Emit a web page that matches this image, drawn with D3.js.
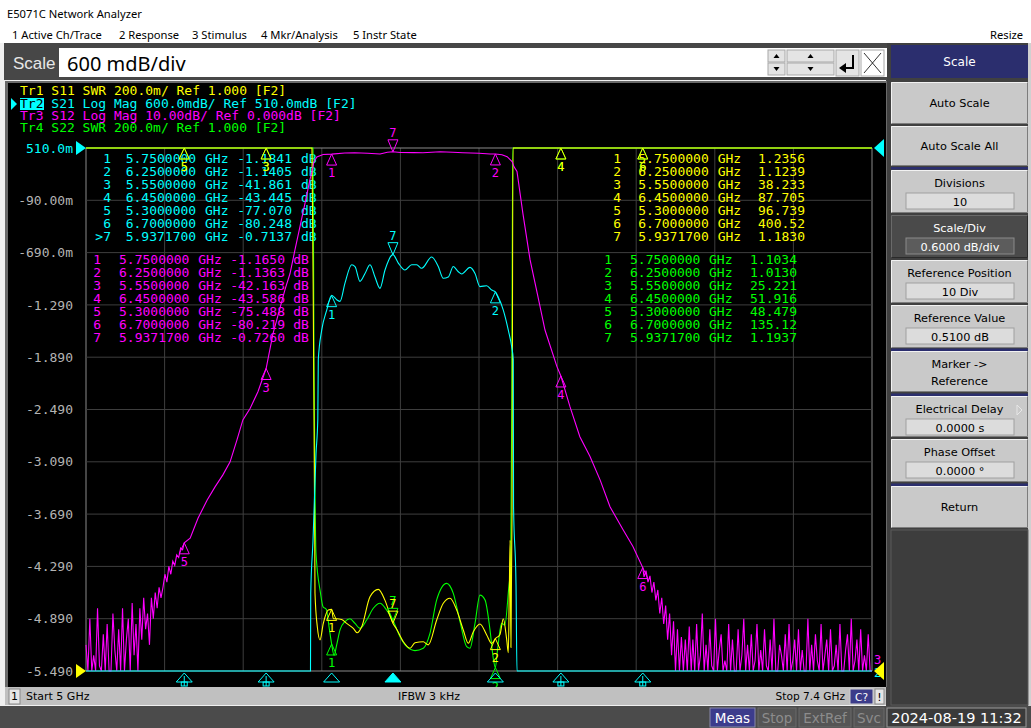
<!DOCTYPE html>
<html>
<head>
<meta charset="utf-8">
<script src="https://cdnjs.cloudflare.com/ajax/libs/d3/7.8.5/d3.min.js"></script>
<style>
body { margin: 0; background: #f0f0f0; overflow: hidden; }
svg { display: block; }
</style>
</head>
<body>
<div id="chart"></div>
<script>
var w = 1031;
var h = 728;
var mono = "'DejaVu Sans Mono', monospace";
var ui = "'DejaVu Sans', sans-serif";

var yellow = "#ffff00", cyan = "#00ffff", magenta = "#ff00ff", green = "#00ff00";

// markers (same stimulus for all 4 traces)
var markerLabels = ["1", "2", "3", "4", "5", "6", "7"];
var markerGHz = [5.75, 6.25, 5.55, 6.45, 5.30, 6.70, 5.93717];
var s11Markers = [1.2356, 1.1239, 38.233, 87.705, 96.739, 400.52, 1.1830];
var s21Markers = [-1.1841, -1.1405, -41.861, -43.445, -77.070, -80.248, -0.7137];
var s12Markers = [-1.1650, -1.1363, -42.163, -43.586, -75.488, -80.219, -0.7260];
var s22Markers = [1.1034, 1.0130, 25.221, 51.916, 48.479, 135.12, 1.1937];

var yTickValues = [0.51, -0.09, -0.69, -1.29, -1.89, -2.49, -3.09, -3.69, -4.29, -4.89, -5.49];
var yTickLabels = ["510.0m", "-90.00m", "-690.0m", "-1.290", "-1.890", "-2.490", "-3.090", "-3.690", "-4.290", "-4.890", "-5.490"];
var xGridValues = [5.0, 5.24, 5.48, 5.72, 5.96, 6.2, 6.44, 6.68, 6.92, 7.16, 7.4];

var traceHeader = [
	["Tr1 S11 SWR 200.0m/ Ref 1.000 [F2]", yellow],
	["Tr2 S21 Log Mag 600.0mdB/ Ref 510.0mdB [F2]", cyan],
	["Tr3 S12 Log Mag 10.00dB/ Ref 0.000dB [F2]", magenta],
	["Tr4 S22 SWR 200.0m/ Ref 1.000 [F2]", green]
];

// S21 log mag (dB) [GHz, value]
var s21Trace = [[5.000,-80.0],[5.300,-77.1],[5.550,-41.9],[5.660,-12.0],[5.6855,-6.5],[5.6862,-4.6],[5.6931,-4.0],
	[5.7023,-3.0],[5.7078,-2.6],[5.7093,-1.92],[5.7197,-1.58],[5.7350,-1.35],[5.7500,-1.18],[5.7655,-1.23],
	[5.7756,-1.25],[5.7908,-1.04],[5.8113,-0.83],[5.8214,-0.85],[5.8366,-1.02],[5.8519,-0.93],[5.8672,-0.83],
	[5.8824,-0.97],[5.8977,-1.10],[5.9130,-0.89],[5.9334,-0.72],[5.93717,-0.7137],[5.9536,-0.81],[5.9740,-0.89],
	[5.9945,-0.83],[6.0098,-0.83],[6.0250,-0.87],[6.0556,-0.74],[6.0757,-0.85],[6.0910,-0.985],[6.1062,-0.97],
	[6.1215,-0.85],[6.1368,-0.91],[6.1472,-0.935],[6.1725,-0.86],[6.1878,-0.93],[6.2030,-1.08],[6.2235,-1.07],
	[6.2388,-1.12],[6.2500,-1.1405],[6.2589,-1.20],[6.2742,-1.35],[6.2895,-1.58],[6.2998,-1.77],[6.3047,-1.92],
	[6.3055,-3.6],[6.3130,-4.5],[6.3160,-7.0],[6.450,-43.4],[6.700,-80.2],[7.400,-90.0]];

// S11 SWR
var s11Trace = [[5.000,150],[5.300,96.7],[5.550,38.2],[5.680,6.0],[5.6900,4.0],[5.6950,2.2],[5.6985,1.5],
	[5.6992,1.298],[5.7063,1.169],[5.7145,1.119],[5.7246,1.182],[5.7398,1.233],[5.7500,1.2356],[5.7551,1.20],
	[5.7655,1.20],[5.7807,1.197],[5.7960,1.182],[5.8162,1.163],[5.8284,1.146],[5.8418,1.169],[5.8672,1.284],
	[5.8925,1.312],[5.9130,1.27],[5.93717,1.183],[5.9487,1.16],[5.9689,1.112],[5.9893,1.087],[6.0046,1.108],
	[6.0299,1.112],[6.0452,1.10],[6.0708,1.195],[6.0910,1.259],[6.1114,1.278],[6.1319,1.233],[6.1520,1.157],
	[6.1673,1.106],[6.1826,1.15],[6.2030,1.18],[6.2235,1.138],[6.2388,1.105],[6.2500,1.1239],[6.2641,1.14],
	[6.2742,1.20],[6.2846,1.12],[6.2895,1.07],[6.2925,1.30],[6.2950,1.50],[6.2975,1.09],[6.3008,1.60],
	[6.3038,3.5],[6.3100,10],[6.450,87.7],[6.700,400.5],[7.400,500]];

// S22 SWR
var s22Trace = [[5.000,60],[5.300,48.5],[5.550,25.2],[5.680,5.0],[5.6931,3.5],[5.6961,2.2],[5.6992,1.7],
	[5.7023,1.45],[5.7158,1.30],[5.7237,1.246],[5.7340,1.235],[5.7420,1.17],[5.7500,1.1034],[5.7575,1.06],
	[5.7655,1.10],[5.7756,1.157],[5.7908,1.189],[5.8061,1.20],[5.8214,1.182],[5.8366,1.163],[5.8570,1.195],
	[5.8773,1.24],[5.8977,1.259],[5.9180,1.233],[5.93717,1.1937],[5.9588,1.131],[5.9792,1.093],[6.0046,1.078],
	[6.0299,1.087],[6.0503,1.144],[6.0708,1.272],[6.1013,1.335],[6.1215,1.297],[6.1420,1.189],[6.1624,1.093],
	[6.1725,1.087],[6.1878,1.182],[6.2030,1.29],[6.2183,1.272],[6.2336,1.157],[6.2434,1.05],[6.2500,1.013],
	[6.2565,1.08],[6.2690,1.182],[6.2790,1.176],[6.2895,1.30],[6.2968,1.42],[6.3000,2.0],[6.3030,3.5],
	[6.3100,8],[6.450,51.9],[6.700,135.1],[7.400,200]];

// S12 log mag (dB): noise floor below the skirts, read spike by spike
var s12NoiseLowSpan = [5.000, 5.229];
var s12NoiseLow = [-95,-108,-90,-104,-97,-110,-88,-99,-107,-93,-110,-91,-101,-108,-89,-96,-109,-92,-103,-88,
	-106,-94,-90,-105,-87,-97,-91,-100,-88,-94,-86,-92,-89,-95,-86,-90,-85,-88,-84,-86];
var s12Main = [[5.235,-84.0],[5.241,-81.5],[5.247,-83.0],[5.253,-80.0],[5.259,-81.5],[5.265,-79.0],[5.271,-79.8],
	[5.277,-77.8],[5.283,-78.3],[5.289,-76.5],[5.295,-76.8],[5.300,-75.49],[5.318,-74.6],[5.342,-70.8],
	[5.370,-67.3],[5.394,-64.8],[5.418,-62.5],[5.440,-60.0],[5.461,-55.8],[5.479,-52.0],[5.501,-49.8],
	[5.525,-46.6],[5.550,-42.16],[5.571,-35.5],[5.608,-27.0],[5.623,-24.0],[5.638,-19.5],[5.669,-10.5],
	[5.684,-6.0],[5.690,-4.5],[5.696,-2.6],[5.705,-1.7],[5.724,-1.25],[5.750,-1.165],[5.790,-0.95],
	[5.820,-0.90],[5.860,-1.00],[5.898,-1.15],[5.920,-0.80],[5.93717,-0.726],[5.960,-0.85],[6.000,-0.88],
	[6.029,-0.90],[6.081,-0.72],[6.120,-0.80],[6.151,-0.90],[6.200,-1.00],[6.234,-1.15],[6.250,-1.136],
	[6.270,-1.30],[6.286,-1.66],[6.301,-2.6],[6.307,-3.6],[6.316,-4.5],[6.334,-12.5],[6.356,-21.4],
	[6.380,-28.4],[6.4015,-34.8],[6.438,-41.8],[6.450,-43.59],[6.478,-49.5],[6.508,-55.2],[6.539,-59.0],
	[6.570,-63.5],[6.600,-68.6],[6.640,-73.0],[6.670,-76.2],[6.700,-80.22],[6.704,-82.0],[6.710,-80.8],
	[6.716,-83.0],[6.722,-81.8],[6.728,-85.0],[6.734,-83.0],[6.740,-86.5],[6.746,-84.5],[6.752,-89.0],
	[6.758,-86.0],[6.764,-91.0],[6.770,-87.5],[6.776,-94.0],[6.782,-89.0],[6.788,-97.0],[6.794,-90.5],
	[6.800,-100],[6.806,-92.0],[6.812,-104],[6.818,-93.5],[6.824,-101],[6.830,-94.0],[6.836,-106],
	[6.842,-91.5],[6.848,-108]];
var s12NoiseHighSpan = [6.853, 7.400];
var s12NoiseHigh = [-94,-108,-91,-106,-97,-89,-110,-95,-108,-92,-99,-107,-90,-109,-96,-93,-108,-98,-105,-91,
	-110,-94,-100,-107,-92,-109,-97,-90,-108,-95,-104,-93,-110,-98,-91,-106,-96,-109,-92,-99,-108,-94,-107,-90,
	-102,-110,-95,-97,-108,-93,-105,-91,-109,-98,-94,-107,-92,-110,-96,-100,-108,-90,-104,-95,-109,-93,-98,-107,
	-91,-110,-97,-94,-106,-92,-109,-99,-95,-108,-91,-103,-110,-96,-93,-107,-90,-109,-98,-94,-108,-92,-105,-97,
	-110,-93,-100,-108];

var panelButtons = [
	{label: "Auto Scale", y0: 82, y1: 124},
	{label: "Auto Scale All", y0: 126, y1: 166},
	{label: "Divisions", value: "10", y0: 170, y1: 213},
	{label: "Scale/Div", value: "0.6000 dB/div", y0: 215, y1: 258, dark: true},
	{label: "Reference Position", value: "10 Div", y0: 260, y1: 303},
	{label: "Reference Value", value: "0.5100 dB", y0: 305, y1: 348},
	{label: "Marker ->", label2: "Reference", y0: 351, y1: 392},
	{label: "Electrical Delay", value: "0.0000 s", y0: 396, y1: 437, arrow: true},
	{label: "Phase Offset", value: "0.0000 \u00b0", y0: 439, y1: 482},
	{label: "Return", y0: 486, y1: 528}
];
var panelSeparators = [167, 348.5, 393.5, 483.5];

var xScale = d3.scaleLinear().domain([5, 7.4]).range([86, 872]);
var yLog = d3.scaleLinear().domain([-5.49, 0.51]).range([671, 148]).clamp(true);
var yS12 = d3.scaleLinear().domain([-100, 0]).range([671, 148]).clamp(true);
var ySwr = d3.scaleLinear().domain([1, 3]).range([671, 148]).clamp(true);

var gx0 = xScale.range()[0], gx1 = xScale.range()[1];
var gy0 = yLog.range()[1], gy1 = yLog.range()[0];

var svg = d3.select("#chart")
	.append("svg")
	.attr("width", w)
	.attr("height", h);

function rect(g, x, y, rw, rh, fill, stroke) {
	return g.append("rect")
		.attr("x", x).attr("y", y)
		.attr("width", rw).attr("height", rh)
		.attr("fill", fill)
		.attr("stroke", stroke || "none");
}

function label(g, x, y, str, size, fill, font, anchor) {
	return g.append("text")
		.attr("x", x).attr("y", y)
		.attr("font-family", font)
		.attr("font-size", size + "px")
		.attr("fill", fill)
		.attr("text-anchor", anchor || "start")
		.text(str);
}

// window chrome
rect(svg, 0, 0, w, h, "#f0f0f0");
rect(svg, 0, 0, w, 43, "#ffffff");
label(svg, 7, 18, "E5071C Network Analyzer", 11.2, "#000", "'Noto Sans', sans-serif");
[["1 Active Ch/Trace", 12], ["2 Response", 119], ["3 Stimulus", 192], ["4 Mkr/Analysis", 261], ["5 Instr State", 353]]
	.forEach(function(m) {
		label(svg, m[1], 39, m[0], 11.2, "#000", "'Noto Sans', sans-serif");
	});
label(svg, 990, 39, "Resize", 11.2, "#000", "'Noto Sans', sans-serif");

// right panel background
rect(svg, 886, 43, 145, 663, "#404040");
rect(svg, 1028, 43, 3, 663, "#d0d0d0");

// scale entry bar
var bar = svg.append("g");
rect(bar, 4, 43, 883, 37, "#474747");
label(bar, 13, 69, "Scale", 17, "#e8e8e8", "'Liberation Sans', sans-serif");
rect(bar, 59, 48, 828, 29, "#ffffff");
label(bar, 67, 71, "600 mdB/div", 20, "#000", "'Noto Sans', sans-serif");
[[768, 17], [787, 47]].forEach(function(b) {
	rect(bar, b[0], 50, b[1], 12, "#e4e4e4", "#a8a8a8");
	rect(bar, b[0], 63, b[1], 12, "#e4e4e4", "#a8a8a8");
	var cx = b[0] + b[1] / 2;
	bar.append("path").attr("d", "M" + (cx - 3) + ",58L" + (cx + 3) + ",58L" + cx + ",54Z").attr("fill", "#000");
	bar.append("path").attr("d", "M" + (cx - 3) + ",67L" + (cx + 3) + ",67L" + cx + ",71Z").attr("fill", "#000");
});
rect(bar, 836, 50, 23, 26, "#e4e4e4", "#a8a8a8");
bar.append("path").attr("d", "M853,55L853,68L845,68").attr("stroke", "#000").attr("stroke-width", 2).attr("fill", "none");
bar.append("path").attr("d", "M839,68L846,63L846,73Z").attr("fill", "#000");
rect(bar, 861, 50, 23, 26, "#ffffff", "#a8a8a8");
bar.append("path").attr("d", "M864,53L881,73M881,53L864,73").attr("stroke", "#000").attr("stroke-width", 0.8);

// plot frame
rect(svg, 5, 81, 882, 606, "#6a6a6a");
rect(svg, 8, 83, 878, 604, "#000000");

// graticule
var grid = svg.append("g");
grid.selectAll("line.v")
	.data(xGridValues)
	.enter()
	.append("line")
	.attr("x1", function(d) { return xScale(d); })
	.attr("x2", function(d) { return xScale(d); })
	.attr("y1", gy0)
	.attr("y2", gy1)
	.attr("stroke", function(d, i) { return (i === 0 || i === xGridValues.length - 1) ? "#8a8a8a" : "#3e3e3e"; });
grid.selectAll("line.h")
	.data(yTickValues)
	.enter()
	.append("line")
	.attr("x1", gx0)
	.attr("x2", gx1)
	.attr("y1", function(d) { return yLog(d); })
	.attr("y2", function(d) { return yLog(d); })
	.attr("stroke", function(d, i) { return (i === 0 || i === yTickValues.length - 1) ? "#8a8a8a" : "#3e3e3e"; });

var yAxis = d3.axisLeft()
	.scale(yLog)
	.tickValues(yTickValues)
	.tickFormat(function(d, i) { return yTickLabels[i]; })
	.tickSize(0)
	.tickPadding(13);

var axisG = svg.append("g")
	.attr("transform", "translate(" + gx0 + ",0)")
	.call(yAxis);
axisG.select(".domain").remove();
axisG.selectAll("text")
	.attr("font-family", mono)
	.attr("font-size", "13px")
	.attr("fill", function(d, i) { return i === 0 ? cyan : "#b4b4b4"; });

// reference position arrows
svg.append("path").attr("d", "M76," + (gy0 - 7) + "L86," + gy0 + "L76," + (gy0 + 7) + "Z").attr("fill", cyan);
svg.append("path").attr("d", "M76," + (gy1 - 7) + "L86," + gy1 + "L76," + (gy1 + 7) + "Z").attr("fill", yellow);
svg.append("path").attr("d", "M884," + (gy0 - 9) + "L874," + gy0 + "L884," + (gy0 + 9) + "Z").attr("fill", cyan);
label(svg, 874, 664, "3", 12, magenta, mono);
label(svg, 874, 677, "2", 12, cyan, mono);
svg.append("path").attr("d", "M884," + (gy1 - 9) + "L874," + gy1 + "L884," + (gy1 + 9) + "Z").attr("fill", yellow);

// trace header lines
var headerY = [95, 108, 119.5, 131.7];
rect(svg, 20, 98, 24, 12, cyan);
svg.append("path").attr("d", "M11,98L17,104L11,110Z").attr("fill", cyan);
traceHeader.forEach(function(t, i) {
	var tx = label(svg, 20, headerY[i], "", 13, t[1], mono);
	if (i === 1) {
		tx.append("tspan").attr("fill", "#000").text(t[0].slice(0, 3));
		tx.append("tspan").text(t[0].slice(3));
	} else {
		tx.text(t[0]);
	}
});

// marker tables
function fmtVal(v) {
	return Math.abs(v) < 1 ? v.toFixed(4) : v.toPrecision(5);
}

function markerTable(vals, color, row0, numX, freqX, ghzX, valX, dbX, activeArrow) {
	var g = svg.append("g");
	vals.forEach(function(v, i) {
		var y = row0 + 13 * i + 4.5;
		var num = markerLabels[i];
		if (i === 6 && activeArrow) num = ">" + num;
		label(g, numX, y, num, 13, color, mono, "end");
		label(g, freqX, y, markerGHz[i].toFixed(7), 13, color, mono);
		label(g, ghzX, y, "GHz", 13, color, mono);
		label(g, valX, y, fmtVal(v), 13, color, mono, "end");
		if (dbX !== null) label(g, dbX, y, "dB", 13, color, mono);
	});
}
markerTable(s21Markers, cyan, 158, 111, 125.7, 205, 292, 301, true);
markerTable(s12Markers, magenta, 259, 101, 119, 198.3, 285, 293.3, false);
markerTable(s11Markers, yellow, 158, 621, 638.3, 717.7, 805, null, false);
markerTable(s22Markers, green, 259, 612, 630, 709, 797, null, false);

// traces
function drawTrace(data, yScale, color, curve) {
	var line = d3.line()
		.curve(curve)
		.x(function(d) { return xScale(d[0]); })
		.y(function(d) { return yScale(d[1]); });
	svg.append("path")
		.datum(data)
		.attr("d", line)
		.attr("fill", "none")
		.attr("stroke", color)
		.attr("stroke-width", 1.1);
}

var s12Trace = [];
var lowIdx = d3.scaleLinear().domain([0, s12NoiseLow.length - 1]).range(s12NoiseLowSpan);
s12NoiseLow.forEach(function(v, i) { s12Trace.push([lowIdx(i), v]); });
s12Main.forEach(function(p) { s12Trace.push(p); });
var highIdx = d3.scaleLinear().domain([0, s12NoiseHigh.length - 1]).range(s12NoiseHighSpan);
s12NoiseHigh.forEach(function(v, i) { s12Trace.push([highIdx(i), v]); });

drawTrace(s22Trace, ySwr, green, d3.curveMonotoneX);
drawTrace(s11Trace, ySwr, yellow, d3.curveMonotoneX);
drawTrace(s12Trace, yS12, magenta, d3.curveLinear);
drawTrace(s21Trace, yLog, cyan, d3.curveMonotoneX);

// markers on traces
function drawMarkers(vals, yScale, color) {
	var g = svg.append("g");
	var lo = yScale.domain()[0];
	markerGHz.forEach(function(f, i) {
		if (vals[i] < lo) return;
		var x = xScale(f);
		var y = yScale(vals[i]);
		if (i === 6) {
			g.append("path")
				.attr("d", "M" + (x - 5) + "," + (y - 12) + "L" + (x + 5) + "," + (y - 12) + "L" + x + "," + y + "Z")
				.attr("fill", "none").attr("stroke", color);
			label(g, x, y - 15, markerLabels[i], 12, color, mono, "middle");
		} else {
			g.append("path")
				.attr("d", "M" + x + "," + y + "L" + (x + 5) + "," + (y + 11) + "L" + (x - 5) + "," + (y + 11) + "Z")
				.attr("fill", "none").attr("stroke", color);
			label(g, x, y + 23, markerLabels[i], 12, color, mono, "middle");
		}
	});
}
drawMarkers(s22Markers, ySwr, green);
drawMarkers(s11Markers, ySwr, yellow);
drawMarkers(s12Markers, yS12, magenta);
drawMarkers(s21Markers, yLog, cyan);

// active trace marker row under the graticule
markerGHz.forEach(function(f, i) {
	var x = xScale(f);
	svg.append("path")
		.attr("d", "M" + x + ",673L" + (x + 8) + ",682L" + (x - 8) + ",682Z")
		.attr("fill", i === 6 ? cyan : "none")
		.attr("stroke", cyan);
	if (s21Markers[i] < yLog.domain()[0]) {
		rect(svg, x - 3, 682, 6, 4, "none", cyan);
		svg.append("line").attr("x1", x).attr("x2", x).attr("y1", 676).attr("y2", 686).attr("stroke", cyan);
	}
});

// status bar
var statusBar = svg.append("g");
rect(statusBar, 5, 687, 881, 18, "#c0c0c0");
rect(statusBar, 9, 689, 11, 15, "#e6e6e6", "#8a8a8a");
label(statusBar, 14.5, 700, "1", 11, "#000", ui, "middle");
label(statusBar, 26, 700, "Start 5 GHz", 11, "#000", ui);
label(statusBar, 398, 700, "IFBW 3 kHz", 11, "#000", ui);
label(statusBar, 845, 700, "Stop 7.4 GHz", 10.6, "#000", ui, "end");
rect(statusBar, 850, 689, 23, 15, "#3c3c8a", "#d0d0d0");
label(statusBar, 861.5, 701, "C?", 10.5, "#ffffff", ui, "middle");
rect(statusBar, 875, 689, 9, 15, "#e6e6e6", "#8a8a8a");
label(statusBar, 879.5, 701, "!", 11, "#000", ui, "middle");

// bottom bar
var foot = svg.append("g");
rect(foot, 0, 706, w, 22, "#4b4b4b");
rect(foot, 710, 708, 45, 19, "#3c3c8c", "#8888aa");
label(foot, 732.5, 723, "Meas", 13.5, "#ffffff", ui, "middle");
[["Stop", 758, 38], ["ExtRef", 799, 52], ["Svc", 854, 30]].forEach(function(b) {
	rect(foot, b[1], 708, b[2], 19, "#555555", "#6a6a6a");
	label(foot, b[1] + b[2] / 2, 723, b[0], 13.5, "#8c8c8c", ui, "middle");
});
rect(foot, 887, 708, 139, 19, "#3a3a3a", "#9a9a9a");
label(foot, 956.5, 723, "2024-08-19 11:32", 14.5, "#ffffff", ui, "middle");

// softkey panel
var panel = svg.append("g");
rect(panel, 891, 45, 137, 33, "#2b2e6e");
label(panel, 959.5, 66, "Scale", 12, "#ffffff", ui, "middle");
panelSeparators.forEach(function(y) {
	rect(panel, 891, y, 137, 2.5, "#2b2e6e");
});
panelButtons.forEach(function(b) {
	var bh = b.y1 - b.y0;
	rect(panel, 891, b.y0, 137, bh, b.dark ? "#4a4a4a" : "#c9c9c9");
	panel.append("path")
		.attr("d", "M891.5," + (b.y1 - 0.5) + "L891.5," + (b.y0 + 0.5) + "L1027.5," + (b.y0 + 0.5))
		.attr("stroke", b.dark ? "#6a6a6a" : "#f2f2f2").attr("fill", "none");
	panel.append("path")
		.attr("d", "M891.5," + (b.y1 - 0.5) + "L1027.5," + (b.y1 - 0.5) + "L1027.5," + (b.y0 + 0.5))
		.attr("stroke", b.dark ? "#2a2a2a" : "#7c7c7c").attr("fill", "none");
	var tc = b.dark ? "#ffffff" : "#000000";
	if (b.value !== undefined) {
		label(panel, 959.5, b.y0 + 17, b.label, 11.3, tc, ui, "middle");
		rect(panel, 906, b.y0 + 23, 108, 16, b.dark ? "#5c5c5c" : "#dcdcdc", b.dark ? "#8a8a8a" : "#a0a0a0");
		label(panel, 960, b.y0 + 35.5, b.value, 11.3, tc, ui, "middle");
		if (b.arrow) {
			panel.append("path").attr("d", "M1017,405L1022,410L1017,415Z").attr("fill", "none").attr("stroke", "#e6e6e6");
		}
	} else if (b.label2 !== undefined) {
		label(panel, 959.5, b.y0 + 17, b.label, 11.3, tc, ui, "middle");
		label(panel, 959.5, b.y0 + 34, b.label2, 11.3, tc, ui, "middle");
	} else {
		label(panel, 959.5, (b.y0 + b.y1) / 2 + 4, b.label, 11.3, tc, ui, "middle");
	}
});
rect(panel, 891, 530, 137, 175, "#3d3d3d", "#5a5a5a");
</script>
</body>
</html>
